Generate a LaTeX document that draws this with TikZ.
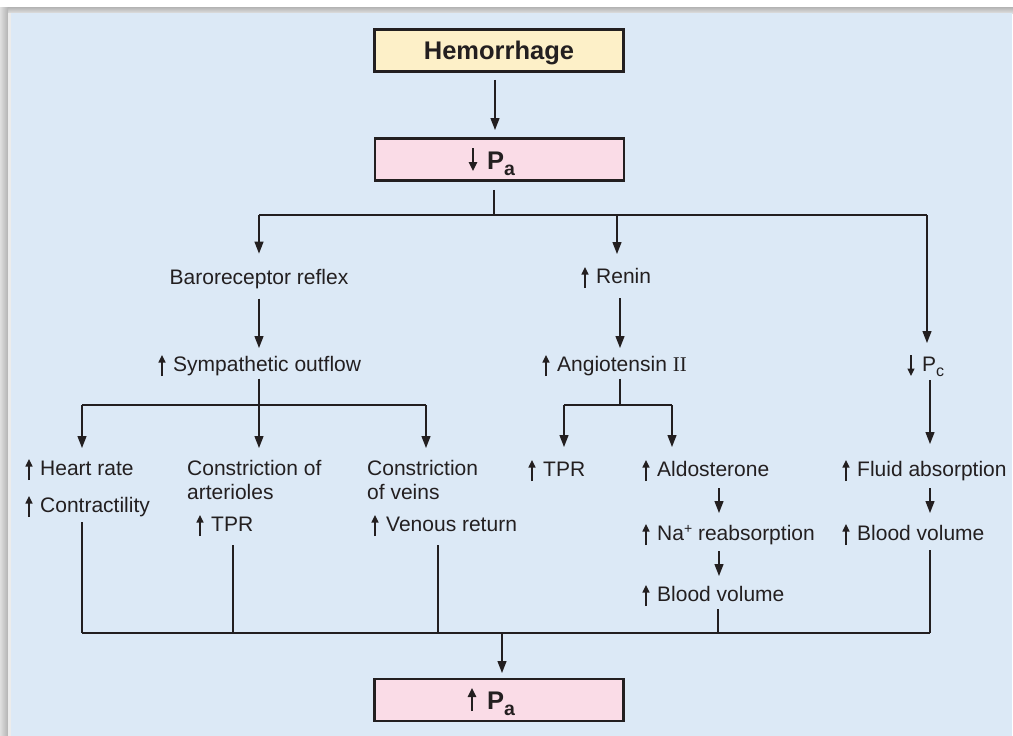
\documentclass[tikz,border=0pt]{standalone}
\usepackage{fontspec}
\setmainfont{Liberation Sans}
\newfontfamily\romanII{Liberation Serif}
\usetikzlibrary{arrows.meta,calc}
\definecolor{bg}{HTML}{DCE9F6}
\definecolor{yel}{HTML}{FDF0C8}
\definecolor{pnk}{HTML}{FADCE7}
\definecolor{ink}{HTML}{231F20}
\newcommand\myUp[1]{\draw[glyph] ([xshift=-11pt,yshift=-5pt]#1.base west) -- ([xshift=-11pt,yshift=16pt]#1.base west);}
\newcommand\myDn[1]{\draw[glyph] ([xshift=-11pt,yshift=16pt]#1.base west) -- ([xshift=-11pt,yshift=-5pt]#1.base west);}
\begin{document}
\begin{tikzpicture}[x=1pt,y=-1pt,
  box/.style={draw=ink,line width=2.6pt,minimum width=249pt,minimum height=42pt,inner sep=0pt},
  boxtxt/.style={inner sep=0pt,font=\fontsize{25.5}{28}\selectfont\bfseries,text=ink},
  txt/.style={inner sep=0pt,anchor=base west,font=\fontsize{21}{24}\selectfont,text=ink},
  ln/.style={draw=ink,line width=1.3pt},
  arr/.style={ln,-{Triangle[length=12pt,width=9pt]}},
  glyph/.style={draw=ink,line width=1.3pt,-{Triangle[length=7.5pt,width=7pt]}},
  bigglyph/.style={draw=ink,line width=1.5pt,-{Triangle[length=9pt,width=8.5pt]}},
]
% frame
\fill[white] (0,0) rectangle (1013,736);
\shade[top color=gray!60,bottom color=gray!25] (0,7) rectangle (1013,13);
\shade[left color=gray!25,right color=gray!60] (0,7) rectangle (8,736);
\fill[gray!15] (8,13) rectangle (11,736);
\fill[bg] (11,13) rectangle (1012,736);

% boxes
\node[box,fill=yel,text height=17pt,text depth=0pt,font=\fontsize{25.5}{28}\selectfont\bfseries,text=ink] (hem) at (499,50.5) {Hemorrhage};
\node[box,fill=pnk] (pa1) at (499.5,159.5) {};
\node[boxtxt,anchor=base west] (pa1t) at (487,169) {P\raisebox{-6pt}{\fontsize{19.5}{20}\selectfont a}};
\draw[bigglyph] ([xshift=-14pt,yshift=21pt]pa1t.base west) -- ([xshift=-14pt,yshift=-2pt]pa1t.base west);
\node[box,fill=pnk] (pa2) at (499,700) {};
\node[boxtxt,anchor=base west] (pa2t) at (487,709) {P\raisebox{-6pt}{\fontsize{19.5}{20}\selectfont a}};
\draw[bigglyph] ([xshift=-15pt,yshift=-2pt]pa2t.base west) -- ([xshift=-15pt,yshift=21pt]pa2t.base west);

% text nodes
\node[txt,anchor=base] (baro) at (259,284) {Baroreceptor reflex};
\node[txt] (symp) at (173,371) {Sympathetic outflow};
\node[txt] (ren) at (596,283) {Renin};
\node[txt] (ang) at (557,371) {Angiotensin {\romanII II}};
\node[txt] (pc) at (922,371) {P\raisebox{-5pt}{\fontsize{16}{18}\selectfont c}};
\node[txt] (hr) at (40,475) {Heart rate};
\node[txt] (ctr) at (40,512) {Contractility};
\node[txt] (ca1) at (187,475) {Constriction of};
\node[txt] (ca2) at (187,499) {arterioles};
\node[txt] (tpr1) at (211,531) {TPR};
\node[txt] (cv1) at (367,475) {Constriction};
\node[txt] (cv2) at (367,499) {of veins};
\node[txt] (vr) at (386,531) {Venous return};
\node[txt] (tpr2) at (543,476) {TPR};
\node[txt] (ald) at (657,476) {Aldosterone};
\node[txt] (na) at (657,540) {Na\raisebox{7pt}{\fontsize{14}{14}\selectfont +} reabsorption};
\node[txt] (bv1) at (657,601) {Blood volume};
\node[txt] (fa) at (857,476) {Fluid absorption};
\node[txt] (bv2) at (857,540) {Blood volume};

% inline arrows
\myUp{symp} \myUp{ren} \myUp{ang} \myDn{pc}
\myUp{hr} \myUp{ctr} \myUp{tpr1} \myUp{vr}
\myUp{tpr2} \myUp{ald} \myUp{na} \myUp{bv1}
\myUp{fa} \myUp{bv2}

% junction coordinates
\coordinate (t0) at (495,80);
\coordinate (t1) at (495,130);
\coordinate (j0) at (494,215);
\coordinate (jL) at (259,215);
\coordinate (jM) at (617,215);
\coordinate (jR) at (927,215);
\coordinate (s1) at (259,405);
\coordinate (sL) at (82,405);
\coordinate (sR) at (426,405);
\coordinate (a1) at (620,405);
\coordinate (aL) at (564,405);
\coordinate (aR) at (672,405);
\coordinate (bL) at (82,633);
\coordinate (bR) at (930,633);
\coordinate (bC) at (502,633);

% connectors
\draw[arr] (hem.south -| t0) ++(0,7) -- (t1);
\draw[ln,shorten <=8pt] (pa1.south -| j0) -- (j0);
\draw[ln] (jL) -- (jR);
\draw[arr] (jL) -- ([yshift=15pt]baro.north);
\draw[arr] (jM) -- (jM |- 0,254);
\draw[arr] (jR) -- (jR |- 0,343);
\draw[arr] ([yshift=-10pt]baro.south) -- (259,348);
\draw[arr] (620,298) -- (620,348);
% sympathetic split
\draw[ln] (symp.south -| s1) ++(0,3) -- (s1);
\draw[ln] (sL) -- (sR);
\draw[arr] (sL) -- (sL |- 0,448);
\draw[arr] (s1) -- (s1 |- 0,448);
\draw[arr] (sR) -- (sR |- 0,448);
% angiotensin split
\draw[ln] (ang.south -| a1) ++(0,3) -- (a1);
\draw[ln] (aL) -- (aR);
\draw[arr] (aL) -- (aL |- 0,447);
\draw[arr] (aR) -- (aR |- 0,447);
% Pc branch
\draw[arr] (930,380) -- (930,444);
\draw[arr] (930,488) -- (930,513);
\draw[arr] (719,488) -- (719,513);
\draw[arr] (719,551) -- (719,576);
% collection
\draw[ln] (82,522) -- (bL);
\draw[ln] (233,545) -- (233,633);
\draw[ln] (438,545) -- (438,633);
\draw[ln] (718,609) -- (718,633);
\draw[ln] (930,550) -- (bR);
\draw[ln] (bL) -- (bR);
\draw[arr] (bC) -- (bC |- 0,673);
\end{tikzpicture}
\end{document}
